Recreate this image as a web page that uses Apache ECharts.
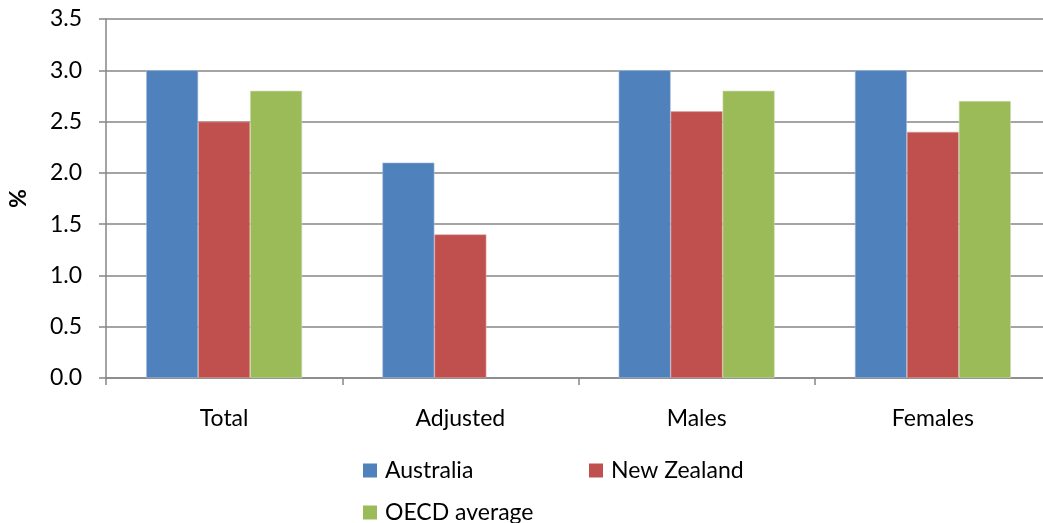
<!DOCTYPE html>
<html>
<head>
<meta charset="utf-8">
<script src="https://cdn.jsdelivr.net/npm/echarts@6/dist/echarts.min.js"></script>
<style>
  html, body { margin: 0; padding: 0; background: #fff; }
  #chart { width: 1043px; height: 523px; }
</style>
</head>
<body>
<div id="chart"></div>
<script>
// categories and values
var categories = ['Total', 'Adjusted', 'Males', 'Females']
var australia = [3.0, 2.1, 3.0, 3.0]
var newZealand = [2.5, 1.4, 2.6, 2.4]
var oecdAverage = [2.8, null, 2.8, 2.7]

var font = 'Lato, "Open Sans", sans-serif'
var colors = ['#4f81bd', '#c0504d', '#9bbb59']
var borders = ['#a9c0de', '#dfa8a6', '#cddcac']

function bar(name, data, i) {
  return {
    name: name,
    type: 'bar',
    data: data,
    barGap: 0,
    barCategoryGap: '34%',
    itemStyle: { color: colors[i], borderColor: borders[i], borderWidth: 0.6 }
  }
}

function legendAt(name, left, top) {
  return {
    data: [{ name: name, icon: 'rect' }],
    left: left,
    top: top,
    padding: 0,
    itemWidth: 14,
    itemHeight: 14,
    itemGap: 0,
    itemStyle: { borderWidth: 0 },
    selectedMode: false,
    textStyle: { fontFamily: font, fontSize: 23, color: '#000', padding: [0, 0, 0, 3] }
  }
}

var chart = echarts.init(document.getElementById('chart'), null, { renderer: 'canvas' })
chart.setOption({
  animation: false,
  color: colors,
  grid: { left: 106, right: -8, top: 19, bottom: 145, containLabel: false, outerBoundsMode: 'none' },
  legend: [
    legendAt('Australia', 363, 459),
    legendAt('New Zealand', 589, 459),
    legendAt('OECD average', 363, 501)
  ],
  xAxis: {
    type: 'category',
    data: categories,
    axisLine: { lineStyle: { color: '#868686', width: 1.5 } },
    axisTick: { show: true, length: 7, lineStyle: { color: '#868686', width: 1.5 } },
    axisLabel: { fontFamily: font, fontSize: 23, color: '#000', margin: 29 }
  },
  yAxis: {
    type: 'value',
    min: 0,
    max: 3.5,
    interval: 0.5,
    name: '%',
    nameLocation: 'middle',
    nameRotate: 90,
    nameGap: 76,
    nameTextStyle: { fontFamily: font, fontSize: 23, fontWeight: 'bold', color: '#000' },
    axisLine: { show: true, lineStyle: { color: '#868686', width: 1.5 } },
    axisTick: { show: true, length: 7, lineStyle: { color: '#868686', width: 1.5 } },
    splitLine: { lineStyle: { color: '#868686', width: 1.5 } },
    axisLabel: {
      fontFamily: font,
      fontSize: 23,
      color: '#000',
      margin: 24,
      formatter: function(v) { return v.toFixed(1) }
    }
  },
  series: [
    bar('Australia', australia, 0),
    bar('New Zealand', newZealand, 1),
    bar('OECD average', oecdAverage, 2)
  ]
})
</script>
</body>
</html>
